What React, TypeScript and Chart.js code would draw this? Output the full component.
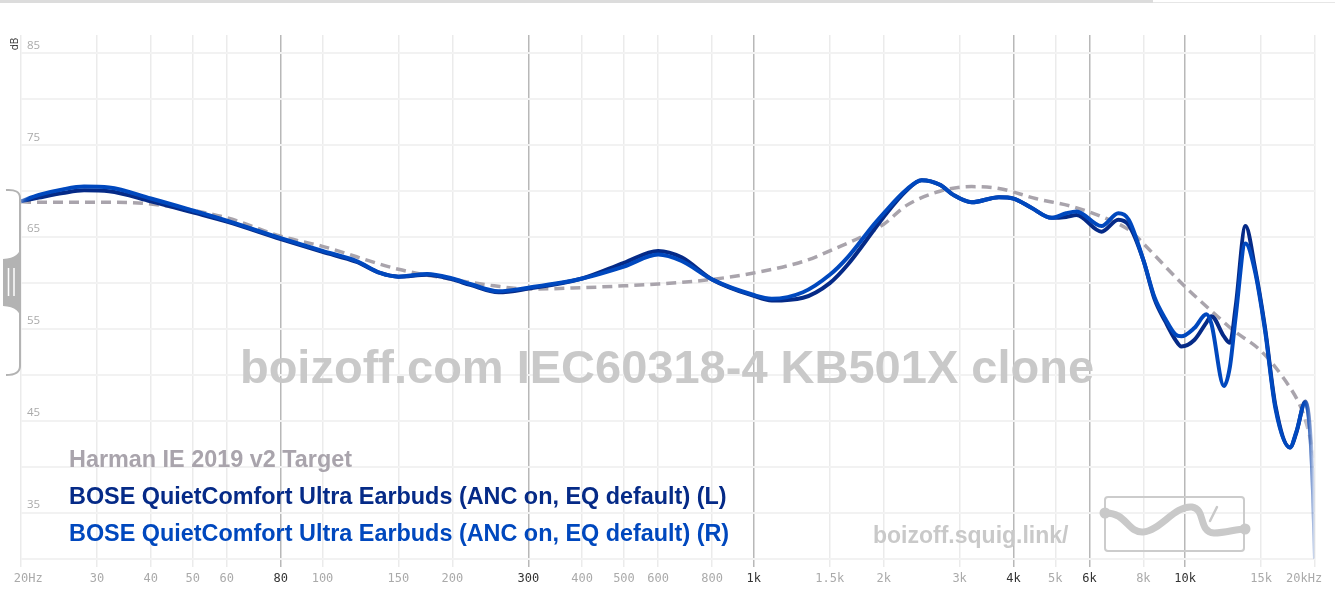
import React, { useEffect, useRef } from 'react';
import { Chart, registerables } from 'chart.js';

Chart.register(...registerables);

// ---------- data ----------
const FREQ = [20, 22, 25, 28, 32, 40, 50, 60, 80, 100, 120, 136, 150, 175, 200, 220, 256, 300, 400, 500, 600, 680, 800, 1000, 1100, 1300, 1500, 1650, 1900, 2000, 2250, 2450, 2700, 2900, 3200, 3700, 4000, 4400, 4900, 5300, 5600, 6400, 7000, 7400, 8000, 8500, 9000, 9500, 9800, 10500, 11200, 11500, 12300, 12700, 13100, 13800, 14500, 15300, 16200, 17500, 18100, 19000, 19500, 19800, 20000];
const LEFT = [68.9, 69.3, 69.8, 70.1, 70.0, 68.9, 67.7, 66.7, 64.8, 63.4, 62.3, 61.1, 60.7, 60.9, 60.4, 59.8, 59.0, 59.4, 60.5, 62.2, 63.5, 62.8, 60.4, 58.6, 58.1, 58.4, 60.0, 62.0, 65.8, 67.2, 70.0, 71.2, 70.7, 69.6, 68.8, 69.35, 69.2, 68.2, 67.1, 67.2, 67.4, 65.6, 66.9, 66.3, 62.5, 58.2, 55.8, 53.8, 53.1, 53.8, 55.7, 56.4, 54.2, 53.5, 57.5, 66.2, 61.8, 55.3, 46.6, 42.1, 43.7, 47.1, 43.7, 37.0, 30.0];
const RIGHT = [68.9, 69.6, 70.2, 70.5, 70.4, 69.2, 67.9, 66.8, 64.9, 63.5, 62.4, 61.1, 60.7, 61.0, 60.5, 59.9, 59.1, 59.5, 60.5, 61.8, 63.1, 62.4, 60.4, 58.7, 58.3, 59.0, 60.9, 62.8, 66.4, 67.6, 70.1, 71.2, 70.7, 69.6, 68.8, 69.35, 69.2, 68.2, 67.1, 67.6, 67.8, 66.2, 67.6, 66.9, 62.5, 58.4, 56.1, 54.4, 54.2, 55.1, 56.6, 55.6, 48.8, 50.9, 56.4, 64.3, 61.4, 55.0, 46.3, 42.1, 43.8, 47.0, 43.5, 37.0, 30.0];
const TARGET_FREQ = [20, 30, 40, 60, 80, 100, 150, 200, 250, 300, 400, 500, 600, 800, 1000, 1300, 1500, 2000, 2250, 2700, 3200, 3700, 4500, 5500, 6500, 7500, 8000, 10000, 12000, 12900, 15000, 17000, 18500, 19000, 20000];
const TARGET = [68.8, 68.8, 68.6, 67.1, 65.1, 64.0, 61.5, 60.4, 59.7, 59.35, 59.5, 59.7, 59.9, 60.4, 61.1, 62.35, 63.5, 66.4, 68.4, 70.0, 70.5, 70.3, 69.2, 68.3, 67.1, 65.6, 64.3, 59.6, 56.2, 54.9, 52.6, 49.5, 46.6, 45.1, 41.0];

const X_TICKS = [20, 30, 40, 50, 60, 80, 100, 150, 200, 300, 400, 500, 600, 800, 1000, 1500, 2000, 3000, 4000, 5000, 6000, 8000, 10000, 15000, 20000];
const X_LABELS = ['  20Hz', '30', '40', '50', '60', '80', '100', '150', '200', '300', '400', '500', '600', '800', '1k', '1.5k', '2k', '3k', '4k', '5k', '6k', '8k', '10k', '15k', '20kHz   '];
const DARK_TICKS = [80, 300, 1000, 4000, 6000, 10000];
const Y_TICKS = [30, 35, 40, 45, 50, 55, 60, 65, 70, 75, 80, 85];
const Y_LABELS = ['', '35', '', '45', '', '55', '', '65', '', '75', '', '85'];

const SERIES_NAMES = [
  'Harman IE 2019 v2 Target',
  'BOSE QuietComfort Ultra Earbuds (ANC on, EQ default) (L)',
  'BOSE QuietComfort Ultra Earbuds (ANC on, EQ default) (R)',
];
const WATERMARK = 'boizoff.com IEC60318-4 KB501X clone';
const SITE = 'boizoff.squig.link/';

const C_TARGET: [number, number, number] = [169, 164, 172];
const C_LEFT: [number, number, number] = [5, 42, 135];
const C_RIGHT: [number, number, number] = [0, 72, 190];

const rgb = (c: number[], a = 1) => `rgba(${c[0]},${c[1]},${c[2]},${a})`;

function fade(c: number[]) {
  return (ctx: any) => {
    const chart = ctx.chart;
    const a = chart.chartArea;
    if (!a) return rgb(c);
    const g = chart.ctx.createLinearGradient(a.left, 0, a.right, 0);
    g.addColorStop(0, rgb(c, 0.3));
    g.addColorStop(0.006, rgb(c));
    g.addColorStop(0.99, rgb(c));
    g.addColorStop(1, rgb(c, 0));
    return g;
  };
}

const decor = {
  id: 'decor',
  beforeDatasetsDraw(chart: any) {
    const c = chart.ctx as CanvasRenderingContext2D;
    c.save();
    // watermark
    c.fillStyle = '#c9c9c9';
    c.font = 'bold 47px "Liberation Sans", Arial, sans-serif';
    c.textAlign = 'center';
    c.textBaseline = 'alphabetic';
    c.fillText(WATERMARK, 667, 383);
    // site
    c.textAlign = 'left';
    c.font = 'bold 23px "Liberation Sans", Arial, sans-serif';
    c.fillText(SITE, 873, 543);
    // legend
    c.font = 'bold 23.4px "Liberation Sans", Arial, sans-serif';
    const cols = [rgb(C_TARGET), rgb(C_LEFT), rgb(C_RIGHT)];
    const ys = [467, 504, 541];
    SERIES_NAMES.forEach((s, i) => {
      c.fillStyle = cols[i];
      c.fillText(s, 69, ys[i]);
    });
    // logo
    c.strokeStyle = '#cccccc';
    c.lineWidth = 2;
    c.beginPath();
    (c as any).roundRect ? (c as any).roundRect(1105, 497, 139, 54, 3) : c.rect(1105, 497, 139, 54);
    c.stroke();
    c.strokeStyle = '#c9c9c9';
    c.lineCap = 'round';
    c.lineJoin = 'round';
    c.lineWidth = 7;
    c.beginPath();
    c.moveTo(1105, 513);
    c.bezierCurveTo(1126, 512, 1128, 533, 1143, 532);
    c.bezierCurveTo(1160, 531, 1175, 505, 1192, 507);
    c.bezierCurveTo(1206, 509, 1198, 532, 1214, 533);
    c.bezierCurveTo(1226, 533, 1236, 529, 1245, 529);
    c.stroke();
    c.fillStyle = '#c9c9c9';
    c.beginPath(); c.arc(1105, 513, 5.5, 0, Math.PI * 2); c.fill();
    c.beginPath(); c.arc(1245, 529, 5.5, 0, Math.PI * 2); c.fill();
    c.lineWidth = 2.5;
    c.beginPath(); c.moveTo(1217, 507); c.lineTo(1210, 521); c.stroke();
    c.restore();
  },
  afterDraw(chart: any) {
    const c = chart.ctx as CanvasRenderingContext2D;
    c.save();
    // top bar
    c.fillStyle = '#dcdcdc';
    c.fillRect(0, 0, 1153, 3);
    c.fillStyle = '#e6e6e6';
    c.fillRect(1153, 2, 182, 1);
    // dB label
    c.translate(15, 44);
    c.rotate(-Math.PI / 2);
    c.fillStyle = '#333';
    c.font = '10px "Open Sans", sans-serif';
    c.textAlign = 'center';
    c.textBaseline = 'middle';
    c.fillText('dB', 0, 0);
    c.setTransform(1, 0, 0, 1, 0, 0);
    // handle
    c.strokeStyle = '#b3b3b3';
    c.fillStyle = '#b3b3b3';
    c.lineWidth = 2;
    c.beginPath();
    c.moveTo(6, 190);
    c.quadraticCurveTo(20, 189, 20, 198);
    c.lineTo(20, 366);
    c.quadraticCurveTo(20, 375, 6, 375);
    c.stroke();
    c.beginPath();
    c.moveTo(21, 244);
    c.quadraticCurveTo(21, 258, 3, 259);
    c.lineTo(3, 306);
    c.quadraticCurveTo(21, 307, 21, 321);
    c.closePath();
    c.fill();
    c.strokeStyle = '#ffffff';
    c.lineWidth = 1.5;
    c.beginPath();
    c.moveTo(8.5, 268); c.lineTo(8.5, 296);
    c.moveTo(14, 268); c.lineTo(14, 296);
    c.stroke();
    c.restore();
  },
};

export default function App() {
  const ref = useRef<HTMLCanvasElement>(null);
  useEffect(() => {
    if (!ref.current) return;
    const mk = (fs: number[], vs: number[]) => fs.map((f, i) => ({ x: f, y: vs[i] }));
    const chart = new Chart(ref.current, {
      type: 'line',
      data: {
        datasets: [
          {
            label: SERIES_NAMES[2],
            data: mk(FREQ, RIGHT),
            borderColor: fade(C_RIGHT),
            borderWidth: 4,
            pointRadius: 0,
            cubicInterpolationMode: 'monotone',
            order: 0,
          },
          {
            label: SERIES_NAMES[1],
            data: mk(FREQ, LEFT),
            borderColor: fade(C_LEFT),
            borderWidth: 4,
            pointRadius: 0,
            cubicInterpolationMode: 'monotone',
            order: 1,
          },
          {
            label: SERIES_NAMES[0],
            data: mk(TARGET_FREQ, TARGET),
            borderColor: fade(C_TARGET),
            borderWidth: 3.5,
            borderDash: [10, 6],
            pointRadius: 0,
            cubicInterpolationMode: 'monotone',
            order: 2,
          },
        ] as any,
      },
      options: {
        animation: false,
        responsive: false,
        events: [],
        layout: { padding: { left: 21, right: 20, top: 35, bottom: 0 } },
        plugins: { legend: { display: false }, tooltip: { enabled: false } },
        scales: {
          x: {
            type: 'logarithmic',
            min: 20,
            max: 20000,
            bounds: 'data',
            border: { display: false },
            afterBuildTicks: (s: any) => {
              s.ticks = X_TICKS.map((v) => ({ value: v }));
            },
            afterFit: (s: any) => {
              s.height = 37;
              s.paddingLeft = 0;
              s.paddingRight = 0;
            },
            grid: {
              drawTicks: false,
              color: (ctx: any) => (DARK_TICKS.includes(ctx.tick?.value) ? '#b8b8b8' : '#ebebeb'),
              lineWidth: 1.5,
            },
            ticks: {
              autoSkip: false,
              maxRotation: 0,
              minRotation: 0,
              padding: 5,
              font: { family: '"DejaVu Sans Mono", monospace', size: 12 },
              color: (ctx: any) => (DARK_TICKS.includes(ctx.tick?.value) ? '#333333' : '#aaaaaa'),
              callback: (_v: any, i: number) => X_LABELS[i],
            },
          },
          y: {
            type: 'linear',
            min: 29.1,
            max: 87,
            bounds: 'data',
            border: { display: false },
            afterBuildTicks: (s: any) => {
              s.ticks = Y_TICKS.map((v) => ({ value: v }));
            },
            afterFit: (s: any) => {
              s.width = 0;
            },
            grid: { drawTicks: false, color: '#f2f2f2', lineWidth: 2 },
            ticks: {
              mirror: true,
              padding: 6,
              labelOffset: -8,
              font: { family: '"Open Sans", sans-serif', size: 11.5 },
              color: '#aaaaaa',
              callback: (_v: any, i: number) => Y_LABELS[i],
            },
          },
        },
      } as any,
      plugins: [decor],
    });
    return () => chart.destroy();
  }, []);
  return (
    <div style={{ position: 'absolute', left: 0, top: 0, width: 1335, height: 604, background: '#fff' }}>
      <canvas ref={ref} width={1335} height={604} />
    </div>
  );
}
